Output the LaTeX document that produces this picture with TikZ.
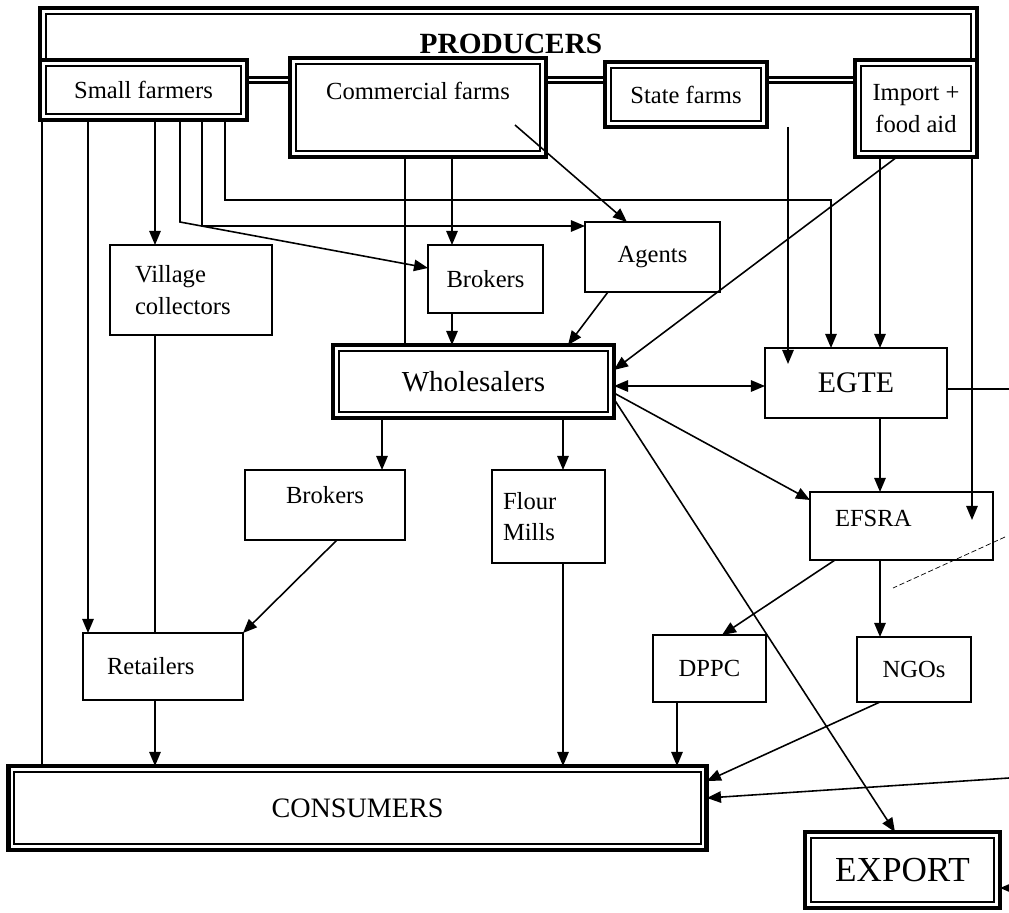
\documentclass[tikz,border=0pt]{standalone}
\usepackage{fontspec}
\setmainfont{Liberation Serif}
\usetikzlibrary{arrows.meta,calc,backgrounds}
\newcommand{\fsz}[2]{\fontsize{#1}{#2}\selectfont}
\begin{document}
\begin{tikzpicture}[x=0.02cm,y=-0.02cm,
  box/.style={draw, line width=1pt, inner sep=0pt, outer sep=0pt, font=\fsz{14}{18}},
  heavy/.style={draw, line width=2.8pt, inner sep=0pt, outer sep=0pt, font=\fsz{14}{18}},
  tip/.tip={Triangle[length=8pt,width=6.5pt]},
  ln/.style={line width=0.9pt},
  arr/.style={line width=0.9pt, -tip},
  darr/.style={line width=0.9pt, tip-tip},
  bar/.style={line width=1.6pt, double, double distance=0.8pt},
  frame/.style={line width=2.8pt, line join=miter},
  thinframe/.style={line width=0.8pt, line join=miter},
  faint/.style={line width=0.4pt, dash pattern=on 3pt off 1.5pt}
]
\useasboundingbox (0,0) rectangle (1009,913);

% heavy nodes
\node[heavy, minimum width=4.14cm, minimum height=1.2cm] (sf) at (143.5,90) {Small farmers};
\node[heavy, minimum width=5.12cm, text height=0.84cm, text depth=1.14cm, anchor=north] (cf) at (418,58) {Commercial farms};
\node[heavy, minimum width=3.24cm, minimum height=1.3cm] (stf) at (686,94.5) {State farms};
\node[heavy, minimum width=2.44cm, minimum height=1.94cm, align=center] (imp) at (916,108.5) {Import +\\food aid};
\node[heavy, minimum width=5.62cm, minimum height=1.46cm, font=\fsz{16.5}{20}] (wh) at (473.5,381.5) {Wholesalers};
\node[heavy, minimum width=13.98cm, minimum height=1.68cm, font=\fsz{16}{19}] (cons) at (357.5,808) {CONSUMERS};
\node[heavy, minimum width=3.9cm, minimum height=1.52cm, font=\fsz{20}{24}] (exp) at (902.5,870) {EXPORT};

% inner thin lines of heavy boxes
\foreach \n in {sf,cf,stf,imp,wh,cons,exp}
  \draw[thinframe] ([shift={(0.12cm,-0.12cm)}]\n.north west) rectangle ([shift={(-0.12cm,0.12cm)}]\n.south east);

% producers frame
\draw[frame] (sf.north west) -- (sf.north west |- 0,8) -- (imp.north east |- 0,8) -- (imp.north east);
\draw[thinframe] ([xshift=0.12cm]sf.north west) -- ([xshift=0.12cm]sf.north west |- 0,14) -- ([xshift=-0.12cm]imp.north east |- 0,14) -- ([xshift=-0.12cm]imp.north east);
\node[font=\bfseries\fsz{16.7}{20}, anchor=base, inner sep=0pt] (prod) at (511,53) {PRODUCERS};

\begin{scope}[on background layer]
\draw[bar] (sf.east |- 0,80) -- (cf.west |- 0,80);
\draw[bar] (cf.east |- 0,80) -- (stf.west |- 0,80);
\draw[bar] (stf.east |- 0,80) -- (imp.west |- 0,80);
\end{scope}

% plain boxes
\node[box, minimum width=3.24cm, minimum height=1.8cm, text width=2.24cm, align=left] (vc) at (191,290) {Village\\collectors};
\node[box, minimum width=2.3cm, minimum height=1.36cm] (brT) at (485.5,279) {Brokers};
\node[box, minimum width=2.7cm, minimum height=1.4cm] (ag) at (652.5,257) {Agents};
\node[box, minimum width=3.64cm, minimum height=1.4cm, font=\fsz{17}{20}] (egte) at (856,383) {EGTE};
\node[box, minimum width=3.2cm, text height=0.68cm, text depth=0.72cm, anchor=north] (brL) at (325,470) {Brokers};
\node[box, minimum width=2.26cm, minimum height=1.86cm, text width=1.82cm, align=left] (fm) at (548.5,516.5) {Flour\\Mills};
\node[box, minimum width=3.66cm, text height=0.7cm, text depth=0.66cm, anchor=north, text width=2.66cm, align=left] (efsra) at (901.5,492) {EFSRA};
\node[box, minimum width=3.2cm, minimum height=1.34cm, text width=2.24cm, align=left] (ret) at (163,666.5) {Retailers};
\node[box, minimum width=2.26cm, minimum height=1.34cm] (dppc) at (709.5,668.5) {DPPC};
\node[box, minimum width=2.28cm, minimum height=1.3cm] (ngo) at (914,669.5) {NGOs};

% free ends
\coordinate (cfin) at (515,125);
\coordinate (egtein) at (788,364);
\coordinate (efin) at (972,520);
\coordinate (edgeA) at (1009,389);
\coordinate (edgeB) at (1009,778);
\coordinate (edgeC) at (1009,888);
\coordinate (dashA) at (1005,537);
\coordinate (dashB) at (893,588);

% connectors from small farmers
\draw[ln] (42,0 |- sf.south) -- (42,0 |- cons.north);
\draw[arr] (88,0 |- sf.south) -- (88,0 |- ret.north);
\draw[arr] (155,0 |- sf.south) -- (155,0 |- vc.north);
\draw[arr] (180,0 |- sf.south) -- (180,222) -- (brT.west |- 0,268);
\draw[arr] (202,0 |- sf.south) -- (202,226) -- (ag.west |- 0,226);
\draw[arr] (225,0 |- sf.south) -- (225,200) -- (831,200) -- (831,0 |- egte.north);

% commercial farms
\draw[ln] (405,0 |- cf.south) -- (405,0 |- wh.north);
\draw[arr] (452,0 |- cf.south) -- (452,0 |- brT.north);
\draw[arr] (452,0 |- brT.south) -- (452,0 |- wh.north);
\draw[arr] (cfin) -- (627,0 |- ag.north);
\draw[arr] (608,0 |- ag.south) -- (568,0 |- wh.north);

% state farms, import
\draw[arr] (788,0 |- stf.south) -- (egtein);
\draw[arr] (880,0 |- imp.south) -- (880,0 |- egte.north);
\draw[arr] (972,0 |- imp.south) -- (efin);
\draw[arr] (897,0 |- imp.south) -- (wh.east |- 0,370);

% wholesalers
\draw[darr] (wh.east |- 0,386) -- (egte.west |- 0,386);
\draw[arr] (wh.east |- 0,393) -- (efsra.west |- 0,500);
\draw[arr] (wh.east |- 0,399) -- (895,0 |- exp.north);
\draw[arr] (382,0 |- wh.south) -- (382,0 |- brL.north);
\draw[arr] (563,0 |- wh.south) -- (563,0 |- fm.north);

% EGTE, EFSRA
\draw[ln] (egte.east |- 0,389) -- (edgeA);
\draw[arr] (880,0 |- egte.south) -- (880,0 |- efsra.north);
\draw[arr] (835,0 |- efsra.south) -- (722,0 |- dppc.north);
\draw[arr] (880,0 |- efsra.south) -- (880,0 |- ngo.north);
\draw[faint] (dashA) -- (dashB);

% to consumers / export
\draw[arr] (677,0 |- dppc.south) -- (677,0 |- cons.north);
\draw[arr] (880,0 |- ngo.south) -- (cons.east |- 0,781);
\draw[arr] (edgeB) -- (cons.east |- 0,798);
\draw[arr] (edgeC) -- (exp.east |- 0,888);
\draw[ln] (155,0 |- vc.south) -- (155,0 |- ret.north);
\draw[arr] (337,0 |- brL.south) -- (ret.north east);
\draw[arr] (155,0 |- ret.south) -- (155,0 |- cons.north);
\draw[arr] (563,0 |- fm.south) -- (563,0 |- cons.north);
\end{tikzpicture}
\end{document}
